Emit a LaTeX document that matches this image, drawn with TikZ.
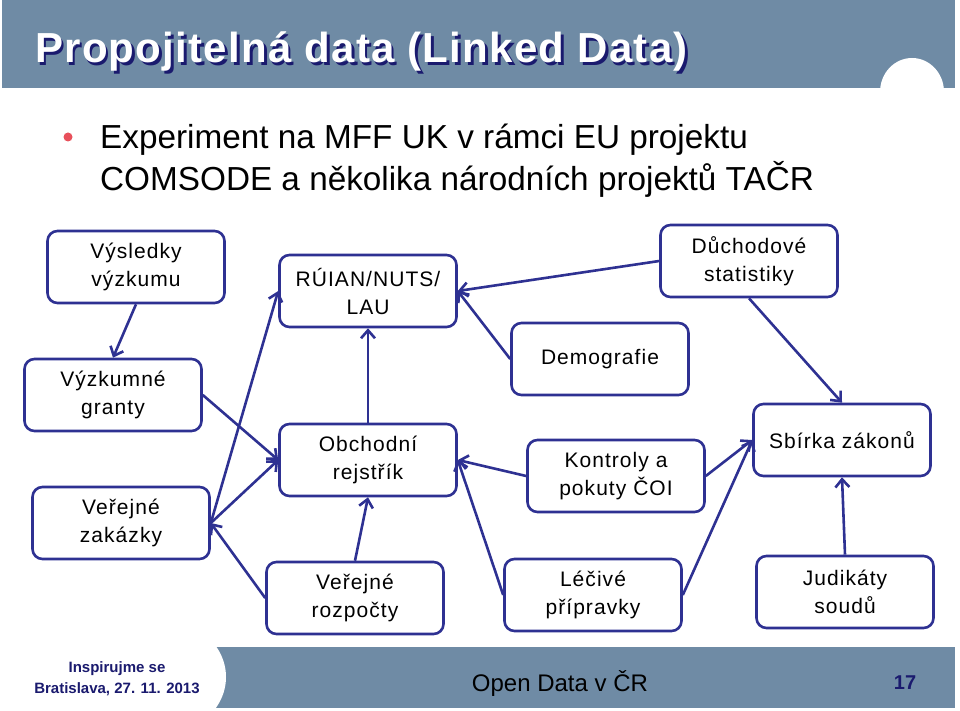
\documentclass[tikz,border=0pt]{standalone}
\usepackage{fontspec}
\setmainfont{Liberation Sans}
\newfontfamily\boxfont[LetterSpace=5]{Liberation Sans}
\newfontfamily\titlefont[LetterSpace=3]{Liberation Sans}
\usepackage{tikz}
\usetikzlibrary{arrows.meta}
\definecolor{barblue}{RGB}{111,139,165}
\definecolor{boxblue}{RGB}{46,49,146}
\definecolor{navy}{RGB}{26,26,110}
\definecolor{bulletred}{RGB}{232,80,91}

\begin{document}
\begin{tikzpicture}[x=1pt,y=-1pt,
  box/.style={draw=boxblue,line width=2.6pt,rounded corners=10pt,minimum width=177pt,minimum height=72pt,align=center,font=\boxfont\fontsize{21}{28}\selectfont},
  link/.style={draw=boxblue,line width=2.6pt,-{Straight Barb[length=8pt,width=14pt]}}]
\useasboundingbox (0,0) rectangle (960,711);
% titulek
\fill[barblue] (2,0) rectangle (955,88);
\fill[white] (912,92) ellipse (32 and 34);
\node[anchor=base west,inner sep=0,text=navy,font=\titlefont\bfseries\fontsize{42}{46}\selectfont] (titlestin) at (37.5,65.5) {Propojitelná data (Linked Data)};
\node[anchor=base west,inner sep=0,text=white,font=\titlefont\bfseries\fontsize{42}{46}\selectfont] (title) at (35,63) {Propojitelná data (Linked Data)};
% odrazka
\fill[bulletred] (68,137) circle (4.5);
\node[anchor=base west,inner sep=0,font=\fontsize{33.3}{42}\selectfont] (exp1) at (100,149) {Experiment na MFF UK v rámci EU projektu};
\node[anchor=base west,inner sep=0,font=\fontsize{33.3}{42}\selectfont] (exp2) at (100,191) {COMSODE a několika národních projektů TAČR};
% zdroje dat
\node[box] (vysl) at (136,267) {Výsledky\\výzkumu};
\node[box] (ruian) at (368,291) {RÚIAN/NUTS/\\LAU};
\node[box] (duch) at (749,261) {Důchodové\\statistiky};
\node[box] (granty) at (113,395) {Výzkumné\\granty};
\node[box] (demo) at (600,359) {Demografie};
\node[box] (obch) at (368,460) {Obchodní\\rejstřík};
\node[box] (kontr) at (616,476) {Kontroly a\\pokuty ČOI};
\node[box] (sbirka) at (842,440) {Sbírka zákonů};
\node[box] (zakazky) at (121,523) {Veřejné\\zakázky};
\node[box] (rozp) at (355,598) {Veřejné\\rozpočty};
\node[box] (lecive) at (593,595) {Léčivé\\přípravky};
\node[box] (judik) at (845,592) {Judikáty\\soudů};
% vazby
\draw[link] (vysl.south) -- (granty.north);
\draw[link] (granty.east) -- (obch.west);
\draw[link] (zakazky.east) -- (obch.west);
\draw[link] (zakazky.east) -- (ruian.west);
\draw[link] (rozp.west) -- (zakazky.east);
\draw[link] (rozp.north) -- (obch.south);
\draw[link] (obch.north) -- (ruian.south);
\draw[link] (duch.west) -- (ruian.east);
\draw[link] (demo.west) -- (ruian.east);
\draw[link] (duch.south) -- (sbirka.north);
\draw[link] (kontr.west) -- (obch.east);
\draw[link] (lecive.west) -- (obch.east);
\draw[link] (kontr.east) -- (sbirka.west);
\draw[link] (lecive.east) -- (sbirka.west);
\draw[link] (judik.north) -- (sbirka.south);
% paticka
\fill[barblue] (213,647) rectangle (955,708);
\fill[white] (150,677) ellipse (76 and 62);
\node[text=navy,font=\bfseries\fontsize{15}{18}\selectfont] (akce) at (117,669) {Inspirujme se};
\node[text=navy,font=\bfseries\fontsize{15}{18}\selectfont] (datum) at (117,689) {Bratislava, 27. 11. 2013};
\node[font=\fontsize{24}{28}\selectfont] (tema) at (560,683) {Open Data v ČR};
\node[text=navy,font=\bfseries\fontsize{20}{24}\selectfont] (strana) at (905,683) {17};
\end{tikzpicture}
\end{document}
